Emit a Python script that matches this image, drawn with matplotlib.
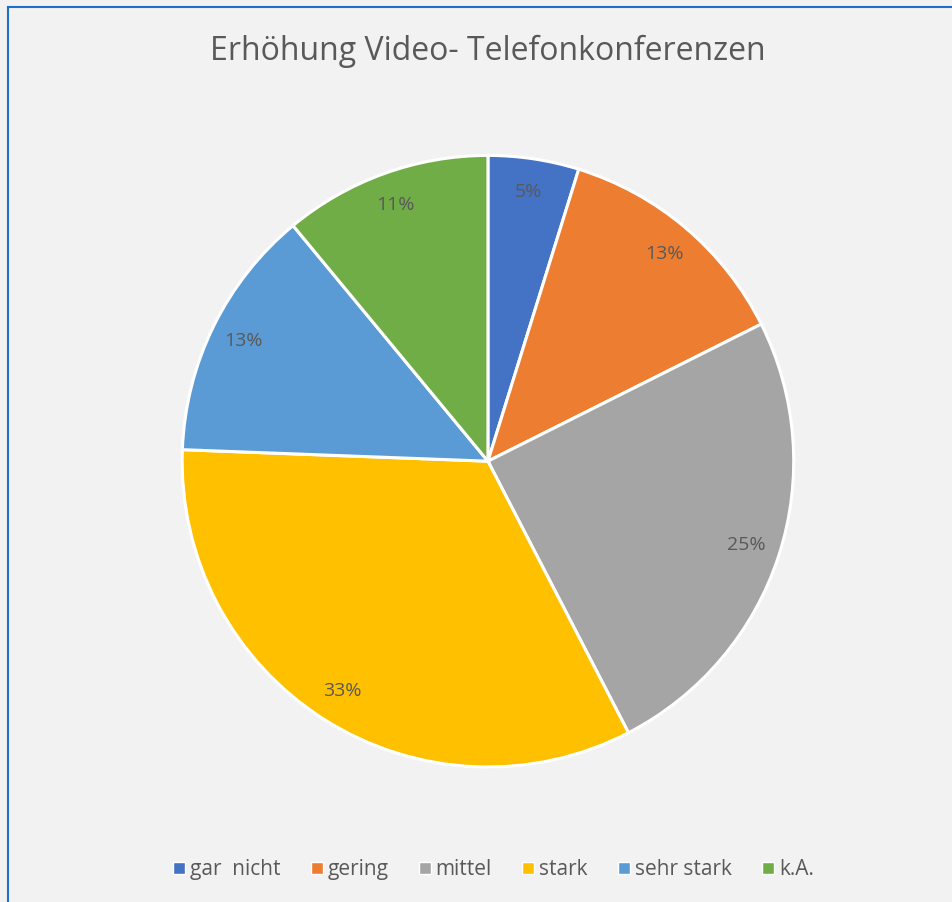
import matplotlib.pyplot as plt
from matplotlib.lines import Line2D

categories = ['gar  nicht', 'gering', 'mittel', 'stark', 'sehr stark', 'k.A.']
shares = [4.8, 12.8, 24.8, 33.2, 13.4, 11.0]
colors = ['#4472C4', '#ED7D31', '#A5A5A5', '#FFC000', '#5B9BD5', '#70AD47']

text_color = '#595959'
bg = '#F2F2F2'

plt.rcParams['font.family'] = ['Open Sans', 'DejaVu Sans']

fig = plt.figure(figsize=(9.53, 9.02), dpi=100, facecolor=bg)
ax = fig.add_axes([0.191, 0.1497, 0.642, 0.678])
ax.set_facecolor(bg)

wedges, texts, autotexts = ax.pie(
    shares, colors=colors, startangle=90, counterclock=False,
    autopct='%1.0f%%', pctdistance=0.89,
    wedgeprops=dict(edgecolor='white', linewidth=2.2),
    textprops=dict(color=text_color, fontsize=14))
ax.set_xlim(-1, 1)
ax.set_ylim(-1, 1)
ax.set_aspect('equal')

fig.text(0.512, 0.943, 'Erhöhung Video- Telefonkonferenzen', ha='center', va='center',
         fontsize=23, color=text_color)

handles = [Line2D([], [], marker='s', linestyle='none', markersize=8,
                  markerfacecolor=c, markeredgecolor='white', markeredgewidth=1)
           for c in colors]
fig.legend(handles, categories, loc='center', bbox_to_anchor=(0.516, 0.036), ncol=6,
           frameon=False, fontsize=15, labelcolor=text_color,
           handletextpad=0.07, columnspacing=1.3, handlelength=0.9)

# chart frame (only top and left edges visible in the crop)
fig.add_artist(Line2D([8 / 953, 8 / 953], [0, 1 - 7 / 902], color='#1F6FC8', linewidth=1.5))
fig.add_artist(Line2D([8 / 953, 1], [1 - 7 / 902, 1 - 7 / 902], color='#1F6FC8', linewidth=1.5))

fig.savefig('out.png', dpi=100, facecolor=bg)
